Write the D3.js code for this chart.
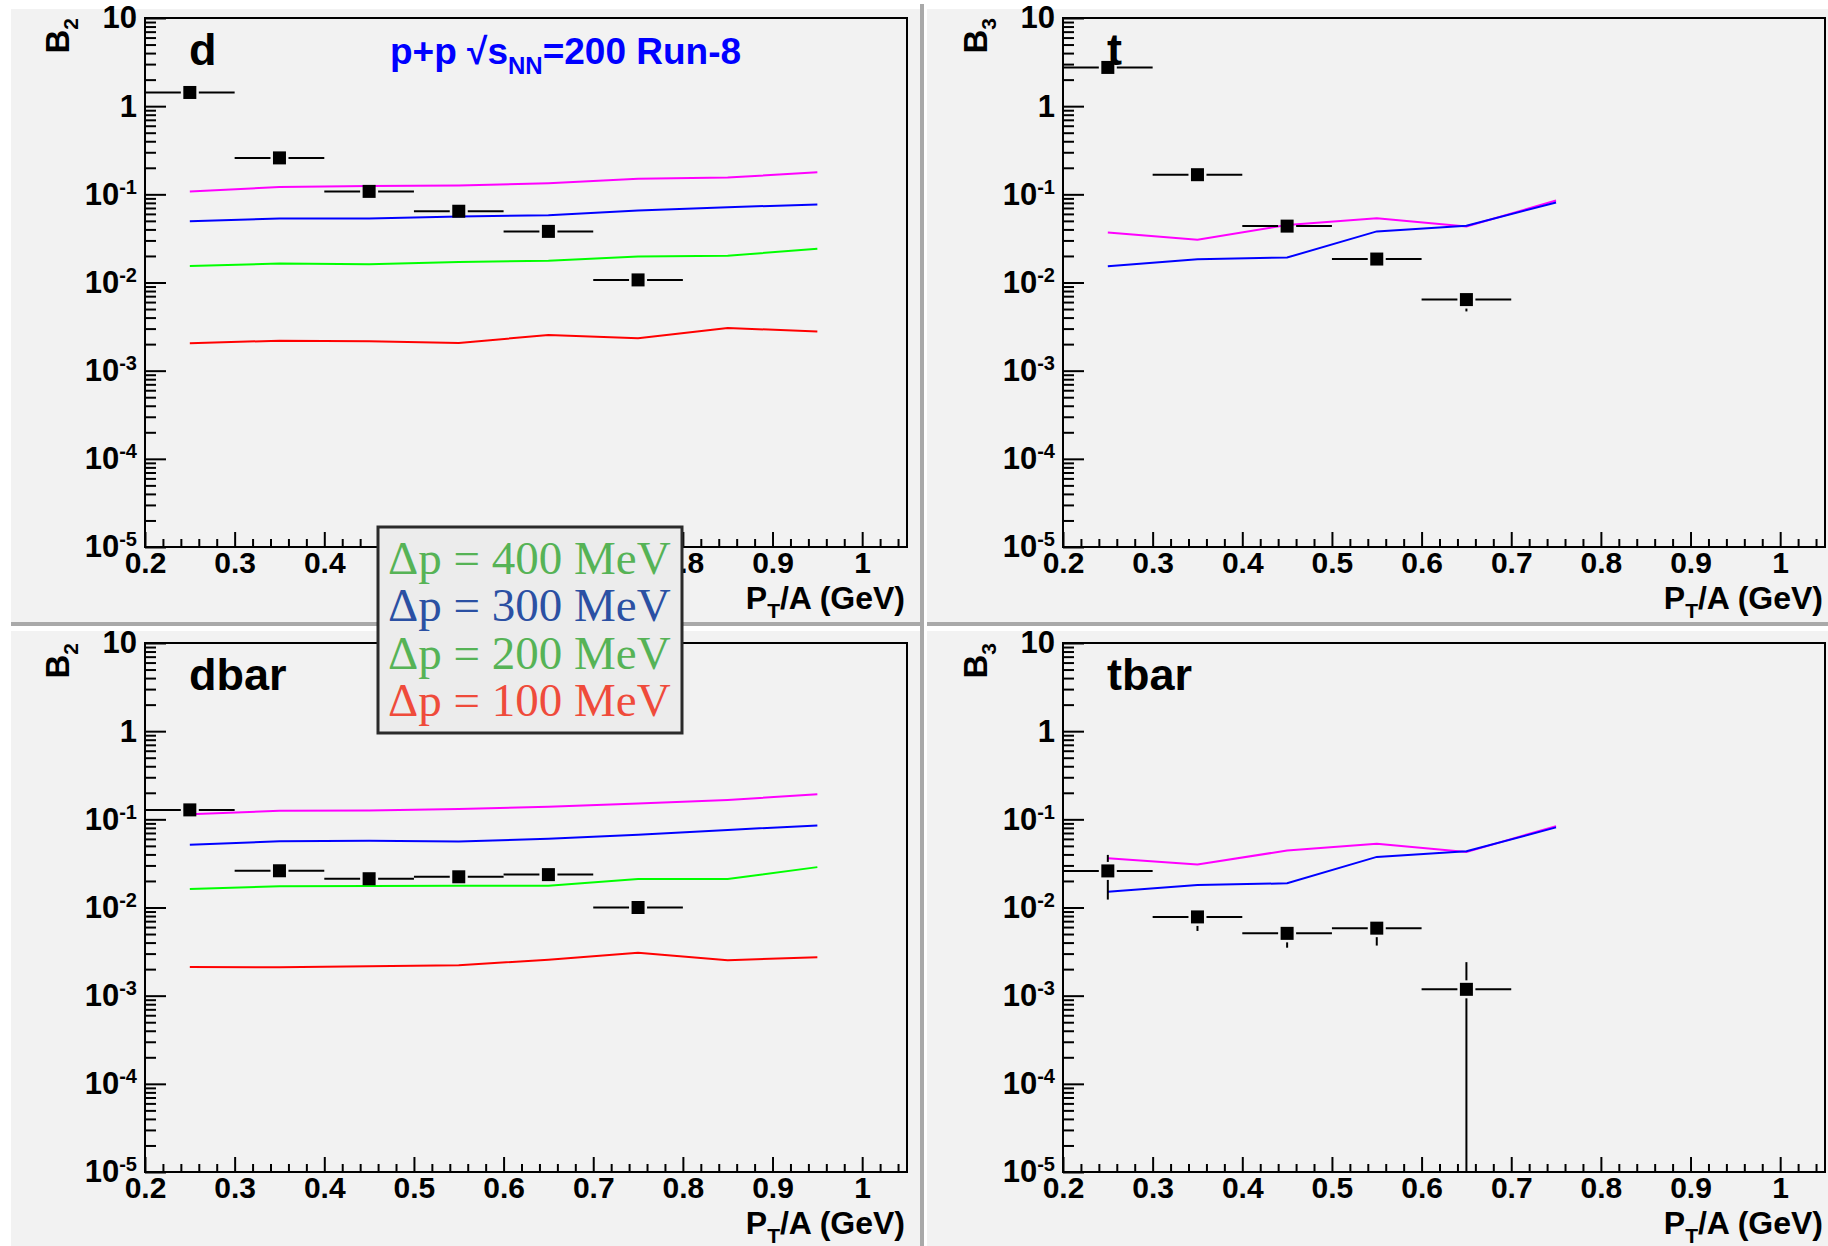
<!DOCTYPE html>
<html>
<head>
<meta charset="utf-8">
<script src="https://cdn.jsdelivr.net/npm/d3@7"></script>
<style>
  html, body { margin: 0; padding: 0; background: #ffffff; }
  svg { display: block; }
</style>
</head>
<body>
<div id="chart"></div>
<script>
// ---- data ----
const ptData = [0.25, 0.35, 0.45, 0.55, 0.65, 0.75];
const ptDataT = [0.25, 0.35, 0.45, 0.55, 0.65];
const ptModel = [0.25, 0.35, 0.45, 0.55, 0.65, 0.75, 0.85, 0.95];
const ptModelT = [0.25, 0.35, 0.45, 0.55, 0.65, 0.75];
const binHalf = 0.05;

// deuteron
const b2D = [1.43, 0.259, 0.108, 0.0643, 0.038, 0.0107];
const d400 = [0.1077, 0.121, 0.1245, 0.126, 0.134, 0.150, 0.155, 0.178];
const d300 = [0.0494, 0.0532, 0.0532, 0.056, 0.058, 0.0656, 0.0714, 0.0767];
const d200 = [0.0154, 0.0164, 0.0161, 0.0171, 0.0177, 0.0197, 0.0201, 0.0242];
const d100 = [0.00204, 0.00219, 0.00215, 0.00206, 0.00254, 0.00233, 0.00304, 0.00279];

// anti-deuteron
const b2Dbar = [0.128, 0.0261, 0.0212, 0.0223, 0.0236, 0.0100];
const dbar400 = [0.114, 0.125, 0.126, 0.131, 0.139, 0.151, 0.166, 0.192];
const dbar300 = [0.0514, 0.0565, 0.057, 0.056, 0.0602, 0.0669, 0.0759, 0.0851];
const dbar200 = [0.0162, 0.0174, 0.0175, 0.0177, 0.0177, 0.021, 0.021, 0.0287];
const dbar100 = [0.00211, 0.0021, 0.00215, 0.00222, 0.00255, 0.00307, 0.00252, 0.00273];

// triton
const b3T = [2.75, 0.167, 0.0436, 0.01845, 0.0064];
const b3TLo = [null, null, null, null, 0.0047];
const b3THi = [null, null, null, null, null];
const t400 = [0.0369, 0.0305, 0.045, 0.0537, 0.0431, 0.0853];
const t300 = [0.0153, 0.0183, 0.0192, 0.038, 0.044, 0.0809];

// anti-triton
const b3Tbar = [0.026, 0.00782, 0.00509, 0.00583, 0.00118];
const b3TbarLo = [0.0123, 0.00542, 0.0035, 0.0037, 1e-6];
const b3TbarHi = [0.0395, null, null, null, 0.0024];
const tbar400 = [0.0363, 0.0307, 0.0443, 0.0528, 0.0425, 0.0838];
const tbar300 = [0.0151, 0.018, 0.0188, 0.0375, 0.0434, 0.081];

const xMajor = [0.2, 0.3, 0.4, 0.5, 0.6, 0.7, 0.8, 0.9, 1.0];
const legendLabels = ['Δp = 400 MeV', 'Δp = 300 MeV', 'Δp = 200 MeV', 'Δp = 100 MeV'];
const legendColors = ['#56b356', '#2b50a3', '#56b356', '#ef4b3b'];
const modelColors = ['#ff00ff', '#0000ff', '#00ff00', '#ff0000'];

// ---- layout ----
const W = 1828, H = 1246;
const FONT = 'Liberation Sans, Arial, Helvetica, sans-serif';

const svg = d3.select('#chart').append('svg')
  .attr('width', W).attr('height', H);

svg.append('rect').attr('width', W).attr('height', H).attr('fill', '#ffffff');

// pads (ROOT canvas divisions)
const pads = [
  {x: 11, y: 9, w: 909, h: 613},
  {x: 927, y: 9, w: 901, h: 613},
  {x: 11, y: 631, w: 909, h: 615},
  {x: 927, y: 631, w: 901, h: 615}
];
pads.forEach(p => {
  svg.append('rect').attr('x', p.x).attr('y', p.y).attr('width', p.w).attr('height', p.h)
    .attr('fill', '#f2f2f2');
});
// bevel borders
svg.append('rect').attr('x', 920).attr('y', 4).attr('width', 4).attr('height', 624).attr('fill', '#a9a9a9');
svg.append('rect').attr('x', 920).attr('y', 628).attr('width', 4).attr('height', 618).attr('fill', '#a9a9a9');
svg.append('rect').attr('x', 11).attr('y', 622).attr('width', 913).attr('height', 4).attr('fill', '#a9a9a9');
svg.append('rect').attr('x', 927).attr('y', 622).attr('width', 901).attr('height', 4).attr('fill', '#a9a9a9');

function drawPanel(cfg) {
  const left = 145 + cfg.ox, right = 907 + cfg.ox;
  const top = 18 + cfg.oy, bottom = 547 + cfg.oy;

  const x = d3.scaleLinear().domain([0.2, 1.05]).range([left, right]);
  const y = d3.scaleLog().domain([1e-5, 10]).range([bottom, top]);

  const g = svg.append('g');

  // clip for data
  const clipId = 'clip' + cfg.key;
  svg.append('clipPath').attr('id', clipId).append('rect')
    .attr('x', left).attr('y', top).attr('width', right - left).attr('height', bottom - top);

  // model curves
  const line = d3.line().x(d => x(d[0])).y(d => y(d[1]));
  cfg.models.forEach((m, i) => {
    g.append('path')
      .datum(cfg.ptModel.map((p, j) => [p, m[j]]))
      .attr('d', line)
      .attr('fill', 'none')
      .attr('stroke', modelColors[i])
      .attr('stroke-width', 2)
      .attr('clip-path', `url(#${clipId})`);
  });

  // data points with error bars (gaps around marker)
  const ms = 13, gap = 9;
  const pts = g.append('g').attr('clip-path', `url(#${clipId})`);
  cfg.pt.forEach((p, i) => {
    const cx = x(p), cy = y(cfg.vals[i]);
    pts.append('line').attr('x1', x(p - binHalf)).attr('x2', cx - gap)
      .attr('y1', cy).attr('y2', cy).attr('stroke', '#000').attr('stroke-width', 2);
    pts.append('line').attr('x1', cx + gap).attr('x2', x(p + binHalf))
      .attr('y1', cy).attr('y2', cy).attr('stroke', '#000').attr('stroke-width', 2);
    if (cfg.lo && cfg.lo[i] != null && y(cfg.lo[i]) > cy + gap) {
      pts.append('line').attr('x1', cx).attr('x2', cx)
        .attr('y1', cy + gap).attr('y2', Math.min(y(cfg.lo[i]), bottom))
        .attr('stroke', '#000').attr('stroke-width', 2);
    }
    if (cfg.hi && cfg.hi[i] != null && y(cfg.hi[i]) < cy - gap) {
      pts.append('line').attr('x1', cx).attr('x2', cx)
        .attr('y1', cy - gap).attr('y2', y(cfg.hi[i]))
        .attr('stroke', '#000').attr('stroke-width', 2);
    }
    pts.append('rect').attr('x', cx - ms / 2).attr('y', cy - ms / 2)
      .attr('width', ms).attr('height', ms).attr('fill', '#000');
  });

  // frame
  g.append('rect').attr('x', left).attr('y', top)
    .attr('width', right - left).attr('height', bottom - top)
    .attr('fill', 'none').attr('stroke', '#000').attr('stroke-width', 2);

  // x axis (labels hidden under the legend box are left out)
  const xLabels = xMajor.filter(v => !(cfg.hideX || []).includes(v));
  const xMinor = d3.range(0.22, 1.05, 0.02).filter(v => Math.abs(v * 10 - Math.round(v * 10)) > 0.01);
  const gxMinor = g.append('g').attr('transform', `translate(0,${bottom})`)
    .call(d3.axisBottom(x).tickValues(xMinor).tickSize(-8).tickFormat(''));
  const gxMajor = g.append('g').attr('transform', `translate(0,${bottom})`)
    .call(d3.axisBottom(x).tickValues(xMajor).tickSize(-15).tickFormat(''));
  const gx = g.append('g').attr('transform', `translate(0,${bottom})`)
    .call(d3.axisBottom(x).tickValues(xLabels).tickSize(0).tickPadding(5)
      .tickFormat(d => d === 1 ? '1' : d.toFixed(1)));
  [gx, gxMinor, gxMajor].forEach(a => {
    a.select('.domain').remove();
    a.selectAll('.tick line').attr('stroke', '#000').attr('stroke-width', 2);
  });
  gx.selectAll('.tick text').attr('fill', '#000')
    .style('font-family', FONT).style('font-weight', 'bold').style('font-size', '30px');

  // y axis
  const yMajor = d3.range(-5, 2).map(e => Math.pow(10, e));
  const yMinor = [];
  d3.range(-5, 1).forEach(e => { for (let k = 2; k <= 9; k++) yMinor.push(k * Math.pow(10, e)); });
  const gyMinor = g.append('g').attr('transform', `translate(${left},0)`)
    .call(d3.axisLeft(y).tickValues(yMinor).tickSize(-11).tickFormat(''));
  const gy = g.append('g').attr('transform', `translate(${left},0)`)
    .call(d3.axisLeft(y).tickValues(yMajor).tickSize(-21).tickPadding(8).tickFormat(''));
  [gy, gyMinor].forEach(a => {
    a.select('.domain').remove();
    a.selectAll('.tick line').attr('stroke', '#000').attr('stroke-width', 2);
  });
  gy.selectAll('.tick text').each(function(d) {
    const t = d3.select(this);
    const e = Math.round(Math.log10(d));
    t.attr('fill', '#000').style('font-family', FONT).style('font-weight', 'bold').style('font-size', '31px');
    if (e === 0) t.text('1');
    else if (e === 1) t.text('10');
    else {
      t.append('tspan').text('10');
      t.append('tspan').attr('dy', '-11').style('font-size', '20px').text(e);
    }
  });

  // axis titles
  const xt = g.append('text').attr('x', right - 2).attr('y', bottom + 62)
    .attr('text-anchor', 'end').attr('fill', '#000')
    .style('font-family', FONT).style('font-weight', 'bold').style('font-size', '32px');
  xt.append('tspan').text('P');
  xt.append('tspan').attr('dy', 9).style('font-size', '21px').text('T');
  xt.append('tspan').attr('dy', -9).text('/A (GeV)');

  const yt = g.append('text').attr('transform', `translate(${left - 76},${top}) rotate(-90)`)
    .attr('text-anchor', 'end').attr('fill', '#000')
    .style('font-family', FONT).style('font-weight', 'bold').style('font-size', '33px');
  yt.append('tspan').text('B');
  yt.append('tspan').attr('dy', 9).style('font-size', '21px').text(cfg.yIndex);

  // particle label
  g.append('text').attr('x', left + 44).attr('y', top + 47)
    .attr('fill', '#000').style('font-family', FONT).style('font-weight', 'bold').style('font-size', '45px')
    .text(cfg.label);

  if (cfg.header) {
    const h = g.append('text').attr('x', 390).attr('y', top + 46).attr('fill', '#0000ff')
      .style('font-family', FONT).style('font-weight', 'bold').style('font-size', '37px');
    h.append('tspan').text('p+p √s');
    h.append('tspan').attr('dy', 10).style('font-size', '24px').text('NN');
    h.append('tspan').attr('dy', -10).text('=200 Run-8');
  }
}

drawPanel({key: 'd', ox: 0, oy: 0, label: 'd', yIndex: '2', header: true, hideX: [0.5, 0.6, 0.7],
  pt: ptData, vals: b2D, ptModel: ptModel, models: [d400, d300, d200, d100]});
drawPanel({key: 't', ox: 918, oy: 0, label: 't', yIndex: '3',
  pt: ptDataT, vals: b3T, lo: b3TLo, hi: b3THi, ptModel: ptModelT, models: [t400, t300]});
drawPanel({key: 'dbar', ox: 0, oy: 625, label: 'dbar', yIndex: '2',
  pt: ptData, vals: b2Dbar, ptModel: ptModel, models: [dbar400, dbar300, dbar200, dbar100]});
drawPanel({key: 'tbar', ox: 918, oy: 625, label: 'tbar', yIndex: '3',
  pt: ptDataT, vals: b3Tbar, lo: b3TbarLo, hi: b3TbarHi, ptModel: ptModelT, models: [tbar400, tbar300]});

// legend box drawn over the top-left pad
const leg = svg.append('g');
leg.append('rect').attr('x', 378).attr('y', 527).attr('width', 304).attr('height', 206)
  .attr('fill', '#ececec').attr('stroke', '#2b2b2b').attr('stroke-width', 3);
legendLabels.forEach((t, i) => {
  leg.append('text').attr('x', 388).attr('y', 574 + i * 47.3)
    .attr('fill', legendColors[i])
    .style('font-family', 'Liberation Serif, Times New Roman, serif').style('font-size', '47px')
    .text(t);
});
</script>
</body>
</html>
